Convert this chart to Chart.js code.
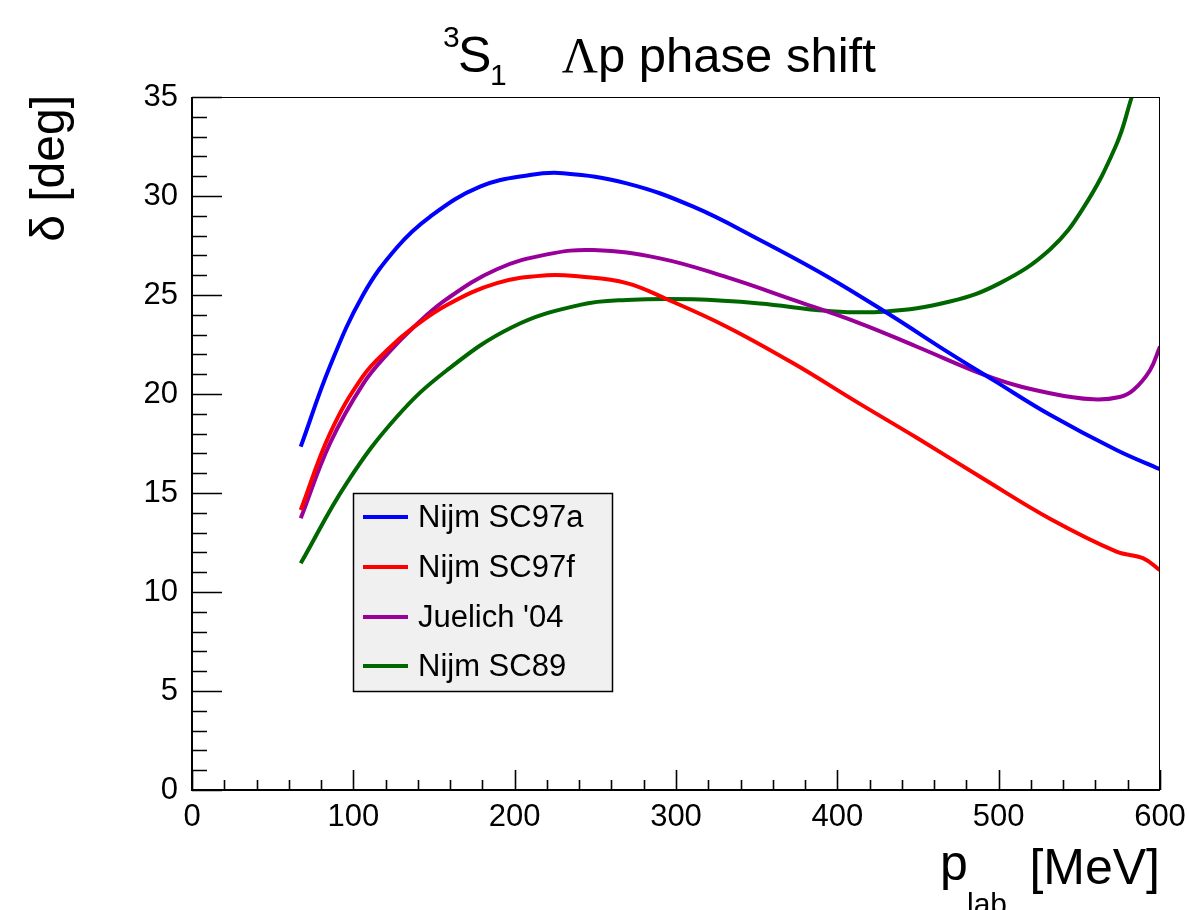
<!DOCTYPE html>
<html>
<head>
<meta charset="utf-8">
<script src="https://cdn.jsdelivr.net/npm/chart.js@4.4.1/dist/chart.umd.min.js"></script>
<style>
html,body{margin:0;padding:0;background:#fff;}
canvas{display:block;}
</style>
</head>
<body>
<canvas id="c" width="1189" height="910"></canvas>
<script>
// ---- data ----
const seriesLabels = ["Nijm SC97a", "Nijm SC97f", "Juelich '04", "Nijm SC89"];
const seriesColors = ["#0000ff", "#ff0000", "#990099", "#006600"];

const pSC97a = [67.4, 85.5, 106, 127, 147.5, 178.5, 209.5, 230, 269.4, 310.7, 352, 393.4, 432.6, 469.8, 496.7, 531.8, 573, 600];
const dSC97a = [17.34, 21.4, 25.0, 27.4, 28.95, 30.47, 31.06, 31.15, 30.64, 29.46, 27.78, 25.95, 24.0, 22.05, 20.7, 18.95, 17.17, 16.2];

const pSC97f = [67.4, 85.5, 106, 122, 137, 158, 189, 220, 240.5, 269.4, 294, 331.4, 372.7, 414, 449, 490.5, 531.8, 573, 589.7, 600];
const dSC97f = [14.14, 18.0, 20.9, 22.3, 23.35, 24.5, 25.6, 26.0, 25.93, 25.6, 24.8, 23.4, 21.55, 19.5, 17.8, 15.72, 13.7, 12.04, 11.7, 11.1];

const pJ04 = [67.4, 85.5, 106, 122, 137, 158, 189, 220, 248.8, 290, 331.4, 372.7, 414, 449, 496.7, 531.8, 558.7, 575, 583.5, 593.8, 600];
const dJ04 = [13.72, 17.5, 20.5, 22.1, 23.35, 24.8, 26.3, 27.05, 27.27, 26.85, 25.9, 24.75, 23.57, 22.4, 20.8, 20.04, 19.73, 19.85, 20.2, 21.2, 22.4];

const pSC89 = [67.4, 95.9, 127, 158, 199, 240.5, 269.4, 310.7, 352, 393.4, 428.5, 469.8, 500.8, 531.8, 552.5, 573, 582.5];
const dSC89 = [11.45, 15.5, 18.85, 21.2, 23.4, 24.5, 24.75, 24.78, 24.57, 24.2, 24.16, 24.67, 25.6, 27.3, 29.4, 32.6, 35.0];

const xTicksMajor = [0, 100, 200, 300, 400, 500, 600];
const yTicksMajor = [0, 5, 10, 15, 20, 25, 30, 35];
const xMinorStep = 20;
const yMinorStep = 1;

const SANS = "'Liberation Sans', Arial, Helvetica, sans-serif";
const SERIF = "'Liberation Serif', 'Times New Roman', serif";

function pts(px, py){ return px.map((v,i)=>({x:v, y:py[i]})); }
const allP = [pSC97a, pSC97f, pJ04, pSC89];
const allD = [dSC97a, dSC97f, dJ04, dSC89];

const datasets = seriesLabels.map((lab,i)=>({
  label: lab,
  data: pts(allP[i], allD[i]),
  borderColor: seriesColors[i],
  backgroundColor: seriesColors[i],
  borderWidth: 4,
  pointRadius: 0,
  showLine: true,
  fill: false,
  tension: 0.4
}));

const framePlugin = {
  id: 'frame',
  afterDatasetsDraw(chart){
    const {ctx, chartArea:a, scales:{x, y}} = chart;
    ctx.save();
    ctx.strokeStyle = '#000';
    ctx.lineWidth = 1;
    ctx.strokeRect(a.left + 0.5, a.top + 0.5, a.right - a.left - 1, a.bottom - a.top);
    ctx.lineWidth = 2;
    ctx.beginPath();
    ctx.moveTo(a.left, a.top); ctx.lineTo(a.left, a.bottom + 1);
    ctx.moveTo(a.left - 1, a.bottom); ctx.lineTo(a.right, a.bottom);
    ctx.stroke();
    ctx.lineWidth = 1.6;
    ctx.beginPath();
    for (let v = x.min; v <= x.max + 1e-9; v += xMinorStep) {
      const px = Math.round(x.getPixelForValue(v)) + 0.5;
      const len = xTicksMajor.includes(Math.round(v)) ? 20 : 10;
      ctx.moveTo(px, a.bottom); ctx.lineTo(px, a.bottom - len);
    }
    for (let v = y.min; v <= y.max + 1e-9; v += yMinorStep) {
      const py = Math.round(y.getPixelForValue(v)) + 0.5;
      const len = yTicksMajor.includes(Math.round(v)) ? 30 : 15;
      ctx.moveTo(a.left, py); ctx.lineTo(a.left + len, py);
    }
    ctx.stroke();
    ctx.restore();
  },
  afterDraw(chart){
    const {ctx} = chart;
    ctx.save();
    ctx.fillStyle = '#000';
    ctx.textBaseline = 'alphabetic';
    // ---- title ----
    ctx.textAlign = 'left';
    ctx.font = '30px ' + SANS;
    ctx.fillText('3', 443, 47);
    ctx.font = '50px ' + SANS;
    ctx.fillText('S', 458, 72);
    ctx.font = '30px ' + SANS;
    ctx.fillText('1', 490, 85);
    ctx.font = '50px ' + SERIF;
    ctx.textAlign = 'right';
    ctx.fillText('\u039B', 598, 72);
    ctx.textAlign = 'left';
    ctx.font = '49px ' + SANS;
    ctx.fillText('p phase shift', 598, 72);
    // ---- x axis title ----
    ctx.font = '50px ' + SANS;
    ctx.textAlign = 'right';
    ctx.fillText('[MeV]', 1160, 884);
    ctx.textAlign = 'left';
    ctx.fillText('p', 940, 880);
    ctx.font = '30px ' + SANS;
    ctx.fillText('lab', 967, 914);
    // ---- y axis title ----
    ctx.save();
    ctx.translate(64, 95);
    ctx.rotate(-Math.PI/2);
    ctx.textAlign = 'right';
    ctx.font = '48px ' + SANS;
    ctx.fillText('\u03B4 [deg]', 0, 0);
    ctx.restore();
    // ---- legend ----
    const lx = 353, ly = 493, lw = 259, lh = 198;
    ctx.fillStyle = '#f0f0f0';
    ctx.fillRect(lx, ly, lw, lh);
    ctx.strokeStyle = '#000';
    ctx.lineWidth = 1.5;
    ctx.strokeRect(lx + 0.5, ly + 0.5, lw, lh);
    const rows = [517, 567, 617, 666];
    chart.data.datasets.forEach((ds, i) => {
      ctx.strokeStyle = ds.borderColor;
      ctx.lineWidth = 4;
      ctx.beginPath();
      ctx.moveTo(363, rows[i]); ctx.lineTo(408, rows[i]);
      ctx.stroke();
      ctx.fillStyle = '#000';
      ctx.font = '31px ' + SANS;
      ctx.textBaseline = 'middle';
      ctx.textAlign = 'left';
      ctx.fillText(ds.label, 418, rows[i] + 1);
    });
    ctx.restore();
  }
};

new Chart(document.getElementById('c'), {
  type: 'scatter',
  data: { datasets },
  options: {
    responsive: false,
    animation: false,
    layout: { padding: { left: 0, right: 29, top: 97, bottom: 0 } },
    plugins: { legend: { display: false }, title: { display: false }, tooltip: { enabled: false } },
    scales: {
      x: {
        type: 'linear', min: 0, max: 600,
        afterBuildTicks(s){ s.ticks = xTicksMajor.map(v=>({value:v})); },
        ticks: { color: '#000', font: { family: SANS, size: 31 }, padding: 9, maxRotation: 0, autoSkip: false },
        grid: { display: false, drawTicks: false },
        border: { display: false },
        afterFit(s){ s.height = 120; s.paddingLeft = 0; s.paddingRight = 0; }
      },
      y: {
        type: 'linear', min: 0, max: 35,
        afterBuildTicks(s){ s.ticks = yTicksMajor.map(v=>({value:v})); },
        ticks: { color: '#000', font: { family: SANS, size: 31 }, padding: 14, autoSkip: false },
        grid: { display: false, drawTicks: false },
        border: { display: false },
        afterFit(s){ s.width = 192; s.paddingTop = 0; s.paddingBottom = 0; }
      }
    }
  },
  plugins: [framePlugin]
});
</script>
</body>
</html>
